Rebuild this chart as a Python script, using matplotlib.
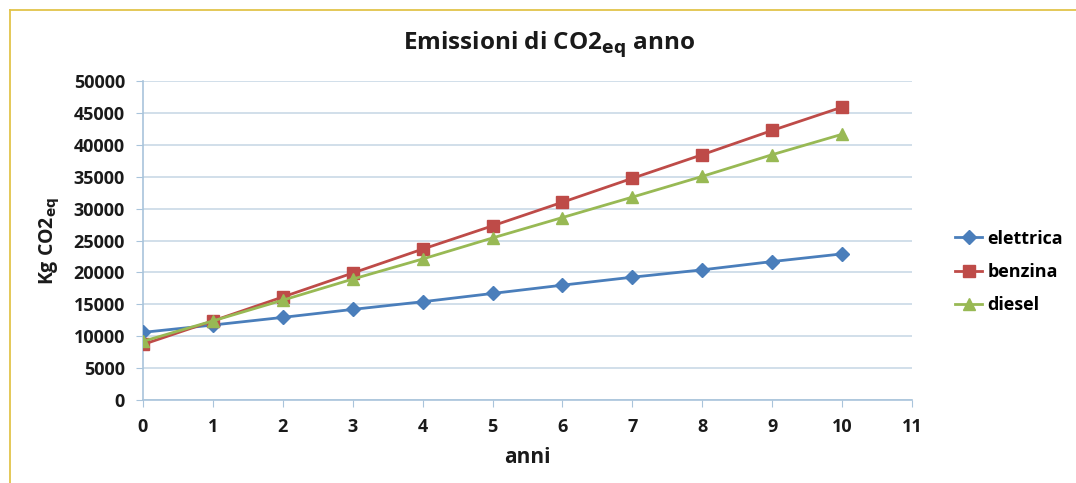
import matplotlib
matplotlib.use("Agg")
import matplotlib.pyplot as plt
from matplotlib.lines import Line2D

# Emissioni cumulate di CO2 equivalente per tipo di alimentazione
anni = list(range(11))
elettrica = [10600, 11750, 12950, 14200, 15400, 16700, 18000, 19250, 20400, 21700, 22900]
benzina = [8700, 12400, 16150, 19900, 23650, 27300, 31000, 34750, 38450, 42250, 45900]
diesel = [9200, 12400, 15650, 18950, 22100, 25400, 28600, 31800, 35050, 38450, 41650]

x_ticks = list(range(12))
y_ticks = list(range(0, 50001, 5000))

plt.rcParams["font.family"] = ["Open Sans", "DejaVu Sans"]
plt.rcParams["font.weight"] = "bold"

W, H = 1076, 483
fig = plt.figure(figsize=(W / 100, H / 100), dpi=100)
fig.patch.set_facecolor("white")

# gold frame along the top and left edges
frame_col = "#e2c44a"
fig.add_artist(Line2D([10 / W, 1.0], [1 - 9.5 / H, 1 - 9.5 / H], color=frame_col, lw=1.3))
fig.add_artist(Line2D([10 / W, 10 / W], [0, 1 - 9.5 / H], color=frame_col, lw=1.3))

ax = fig.add_axes([143 / W, 1 - 400 / H, (912 - 143) / W, (400 - 81) / H])

series = [
    ("elettrica", elettrica, "#4a7ebb", "D", 7.5),
    ("benzina", benzina, "#be4b48", "s", 8.5),
    ("diesel", diesel, "#98b954", "^", 9),
]
for name, vals, col, mk, ms in series:
    ax.plot(anni, vals, color=col, lw=2, marker=mk, markersize=ms,
            markerfacecolor=col, markeredgecolor=col, label=name, zorder=3)

ax.set_xlim(0, 11)
ax.set_ylim(0, 50000)
ax.set_xticks(x_ticks)
ax.set_yticks(y_ticks)
ax.set_xticklabels([str(v) for v in x_ticks])
ax.set_yticklabels([str(v) for v in y_ticks])

grid_col = "#c9d9e6"
axis_col = "#a9c4db"
ax.yaxis.grid(True, color=grid_col, lw=1.2, zorder=0)
ax.set_axisbelow(True)
for s in ["top", "right"]:
    ax.spines[s].set_visible(False)
ax.spines["left"].set_color(axis_col)
ax.spines["bottom"].set_color(axis_col)
ax.spines["left"].set_linewidth(1.2)
ax.spines["bottom"].set_linewidth(1.2)
ax.tick_params(axis="x", direction="out", length=5, color=axis_col, pad=8,
               labelsize=13, labelcolor="#1a1a1a")
ax.tick_params(axis="y", direction="out", length=5, color=axis_col, pad=8,
               labelsize=13, labelcolor="#1a1a1a")
for lbl in ax.get_xticklabels() + ax.get_yticklabels():
    lbl.set_fontweight("bold")

ax.set_xlabel("anni", fontsize=15, fontweight="bold", labelpad=8, color="#1a1a1a")
ax.set_ylabel("Kg CO2$_{\\mathbf{eq}}$", fontsize=14, fontweight="bold", labelpad=8,
              color="#1a1a1a")
fig.text(549 / W, 1 - 45 / H, "Emissioni di CO2$_{\\mathbf{eq}}$ anno", ha="center",
         va="center", fontsize=17.5, fontweight="bold", color="#1a1a1a")

fig.legend(loc="center left", bbox_to_anchor=(939 / W, 1 - 272 / H), frameon=False,
           handlelength=1.5, handletextpad=0.3, labelspacing=0.85,
           prop={"weight": "bold", "size": 13})

fig.savefig("out.png", dpi=100, facecolor="white")
